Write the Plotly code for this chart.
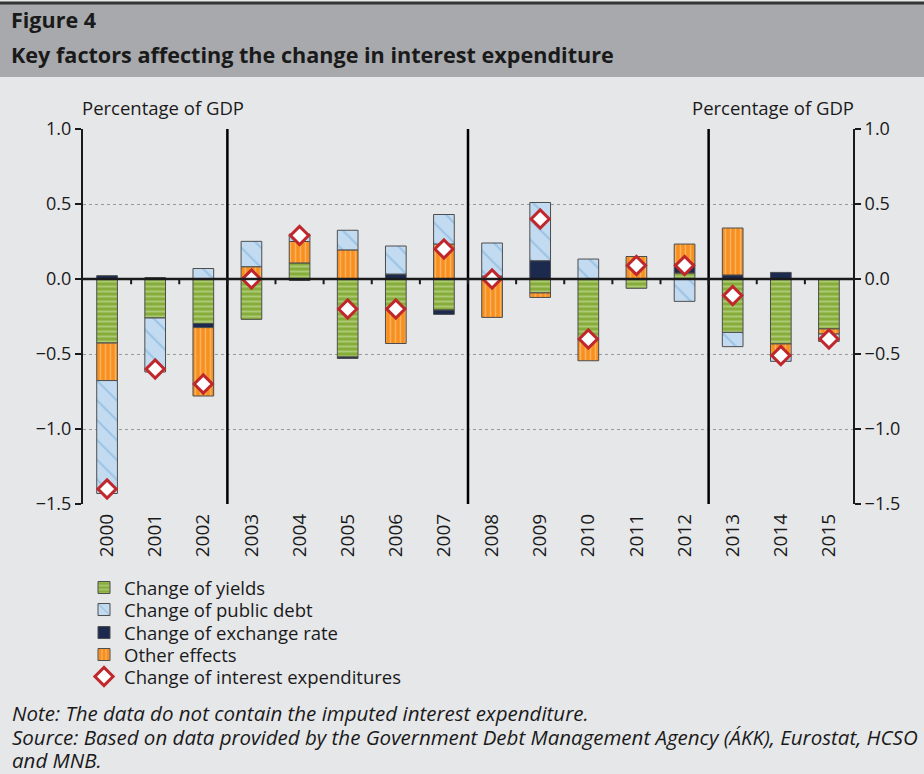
import plotly.graph_objects as go

years = [str(y) for y in range(2000, 2016)]
yields = [-0.427, -0.26, -0.297, -0.269, 0.107, -0.52, -0.19, -0.207, 0.02, -0.093, -0.40, -0.062, 0.04, -0.356, -0.433, -0.333]
debt = [-0.753, -0.36, 0.07, 0.169, 0.05, 0.131, 0.187, 0.197, 0.22, 0.388, 0.133, 0.0, -0.149, -0.095, -0.033, -0.049]
exchange = [0.022, 0.0, -0.027, 0.0, -0.01, -0.01, 0.033, -0.029, 0.0, 0.122, -0.01, 0.0, 0.06, 0.027, 0.044, 0.0]
other = [-0.25, 0.01, -0.456, 0.082, 0.143, 0.194, -0.24, 0.233, -0.256, -0.03, -0.135, 0.15, 0.133, 0.313, -0.083, -0.034]
total = [-1.40, -0.60, -0.70, 0.0, 0.29, -0.20, -0.20, 0.20, 0.0, 0.40, -0.40, 0.09, 0.09, -0.11, -0.51, -0.40]

y_ticks = [-1.5, -1.0, -0.5, 0.0, 0.5, 1.0]
y_ticktext = ["\u22121.5", "\u22121.0", "\u22120.5", "0.0", "0.5", "1.0"]

FONT = "Open Sans"
TXT = "#1a1a1a"
BG = "#e6e7e9"

L, R, T, B = 83, 853, 129, 504
W, H = R - L, B - T


def px_x(x):
    return (x - L) / W


def px_y(y):
    return (B - y) / H


fig = go.Figure()
bw = 0.43
line = dict(color="#4d4d4d", width=1)

fig.add_trace(go.Bar(
    x=years, y=yields, name="Change of yields", width=bw, legend="legend",
    marker=dict(color="#86ad3a", line=line,
                pattern=dict(shape="-", fgcolor="#d3e5b0", size=5, solidity=0.4, fillmode="overlay")),
))
fig.add_trace(go.Bar(
    x=years, y=exchange, name="Change of exchange rate", width=bw, legend="legend3",
    marker=dict(color="#1b2a4e", line=line),
))
fig.add_trace(go.Bar(
    x=years, y=other, name="Other effects", width=bw, legend="legend4",
    marker=dict(color="#f7901e", line=line,
                pattern=dict(shape="|", fgcolor="#fdd3a3", size=5, solidity=0.3, fillmode="overlay")),
))
fig.add_trace(go.Bar(
    x=years, y=debt, name="Change of public debt", width=bw, legend="legend2",
    marker=dict(color="#c3dbf0", line=line,
                pattern=dict(shape="\\", fgcolor="#74acd9", size=14, solidity=0.15, fillmode="overlay")),
))
fig.add_trace(go.Scatter(
    x=years, y=total, name="Change of interest expenditures", mode="markers", legend="legend5",
    marker=dict(symbol="diamond", size=14, color="white", line=dict(color="#c0272d", width=3)),
))
# invisible trace to show the right-hand axis
fig.add_trace(go.Scatter(x=years, y=total, yaxis="y2", mode="markers",
                         marker=dict(opacity=0), showlegend=False, hoverinfo="skip"))

shapes = []
# header band
shapes.append(dict(type="rect", xref="paper", yref="paper", x0=px_x(0), x1=px_x(924),
                   y0=px_y(77), y1=px_y(4), fillcolor="#a7a9ac", line=dict(width=0), layer="below"))
shapes.append(dict(type="line", xref="paper", yref="paper", x0=px_x(0), x1=px_x(924),
                   y0=px_y(3), y1=px_y(3), line=dict(color="#333333", width=3)))
# separators
for xb in [2.5, 7.5, 12.5]:
    shapes.append(dict(type="line", xref="x", yref="paper", x0=xb, x1=xb, y0=0, y1=1,
                       line=dict(color="black", width=2.5), layer="above"))
# zero line
shapes.append(dict(type="line", xref="paper", yref="y", x0=0, x1=1, y0=0, y1=0,
                   line=dict(color="#1a1a1a", width=2.5), layer="above"))
# small category ticks on zero line
for i in range(len(years) - 1):
    shapes.append(dict(type="line", xref="x", yref="y", x0=i + 0.5, x1=i + 0.5, y0=0, y1=-0.035,
                       line=dict(color="#1a1a1a", width=2), layer="above"))

annotations = [
    dict(text="<b>Figure 4</b>", x=px_x(9), y=px_y(19), xref="paper", yref="paper",
         xanchor="left", yanchor="middle", showarrow=False, font=dict(size=21.5, color=TXT, family=FONT)),
    dict(text="<b>Key factors affecting the change in interest expenditure</b>", x=px_x(9), y=px_y(54),
         xref="paper", yref="paper", xanchor="left", yanchor="middle", showarrow=False,
         font=dict(size=21.6, color=TXT, family=FONT)),
    dict(text="Percentage of GDP", x=px_x(80), y=px_y(108), xref="paper", yref="paper",
         xanchor="left", yanchor="middle", showarrow=False, font=dict(size=18.5, color=TXT, family=FONT)),
    dict(text="Percentage of GDP", x=px_x(856), y=px_y(108), xref="paper", yref="paper",
         xanchor="right", yanchor="middle", showarrow=False, font=dict(size=18.5, color=TXT, family=FONT)),
    dict(text="Note: The data do not contain the imputed interest expenditure.", x=px_x(10), y=px_y(713),
         xref="paper", yref="paper", xanchor="left", yanchor="middle", showarrow=False,
         font=dict(size=20.5, color=TXT, family=FONT, style="italic")),
    dict(text="Source: Based on data provided by the Government Debt Management Agency (ÁKK), Eurostat, HCSO",
         x=px_x(10), y=px_y(737), xref="paper", yref="paper", xanchor="left", yanchor="middle",
         showarrow=False, font=dict(size=20.5, color=TXT, family=FONT, style="italic")),
    dict(text="and MNB.", x=px_x(10), y=px_y(760), xref="paper", yref="paper", xanchor="left",
         yanchor="middle", showarrow=False, font=dict(size=20.5, color=TXT, family=FONT, style="italic")),
]

yax = dict(range=[-1.5, 1.0], tickvals=y_ticks, ticktext=y_ticktext, showgrid=True,
           gridcolor="#9a9a9a", griddash="dot", gridwidth=1, zeroline=False,
           showline=True, linecolor="#1a1a1a", linewidth=2, ticks="outside", ticklen=6,
           tickwidth=2, tickcolor="#1a1a1a", tickfont=dict(size=18, color=TXT, family=FONT))

legend_rows = [588, 610, 633, 655, 677]
legends = {}
for k, yc in enumerate(legend_rows):
    key = "legend" if k == 0 else f"legend{k + 1}"
    legends[key] = dict(x=px_x(84), y=px_y(yc), xanchor="left", yanchor="middle",
                        bgcolor="rgba(0,0,0,0)", font=dict(size=18.5, color=TXT, family=FONT),
                        itemwidth=30)

fig.update_layout(
    width=924, height=774, autosize=False,
    margin=dict(l=L, r=924 - R, t=T, b=774 - B),
    paper_bgcolor=BG, plot_bgcolor=BG,
    barmode="relative", bargap=0.5,
    font=dict(family=FONT, color=TXT),
    xaxis=dict(type="category", tickangle=-90, showgrid=False, showline=False, zeroline=False,
               ticks="", tickfont=dict(size=19, color=TXT, family=FONT), ticklabelstandoff=5,
               range=[-0.5, 15.5]),
    yaxis=yax,
    yaxis2=dict(yax, overlaying="y", side="right", showgrid=False),
    showlegend=True,
    shapes=shapes,
    annotations=annotations,
    **legends,
)

fig.write_html("out.html", config={"displayModeBar": False},
               post_script="document.body.style.margin='0';document.body.style.overflow='hidden';")
